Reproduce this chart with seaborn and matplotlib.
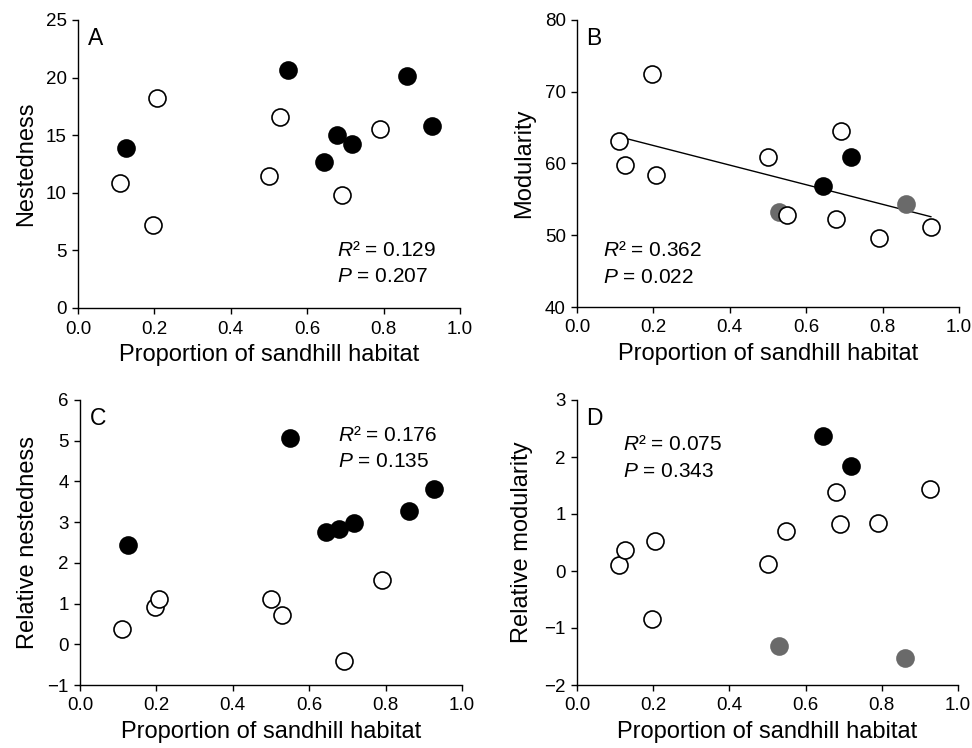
import numpy as np
import pandas as pd
import matplotlib
matplotlib.use("Agg")
import matplotlib.pyplot as plt
import seaborn as sns

# proportion of sandhill habitat per site (same sites in all panels)
sandhill = [0.109, 0.125, 0.197, 0.206, 0.500, 0.530, 0.549,
            0.645, 0.679, 0.690, 0.718, 0.791, 0.861, 0.927]

nestedness = [10.81, 13.93, 7.20, 18.21, 11.45, 16.59, 20.66,
              12.66, 15.06, 9.83, 14.22, 15.52, 20.17, 15.81]
modularity = [63.08, 59.81, 72.49, 58.41, 60.89, 53.29, 52.87,
              56.88, 52.26, 64.48, 60.93, 49.56, 54.41, 51.14]
rel_nestedness = [0.37, 2.44, 0.91, 1.12, 1.10, 0.73, 5.07,
                  2.77, 2.84, -0.40, 2.99, 1.58, 3.27, 3.81]
rel_modularity = [0.105, 0.37, -0.85, 0.53, 0.12, -1.32, 0.71,
                  2.37, 1.39, 0.82, 1.85, 0.85, -1.53, 1.44]

# point categories: open / filled (black) / gray
groups_nest = ["open", "filled", "open", "open", "open", "open", "filled",
               "filled", "filled", "open", "filled", "open", "filled", "filled"]
groups_mod = ["open", "open", "open", "open", "open", "gray", "open",
              "filled", "open", "open", "filled", "open", "gray", "open"]

stats_text = {
    "A": ("0.129", "0.207"),
    "B": ("0.362", "0.022"),
    "C": ("0.176", "0.135"),
    "D": ("0.075", "0.343"),
}

sns.set_style("ticks")
plt.rcParams["font.family"] = ["Liberation Sans", "DejaVu Sans"]
plt.rcParams["mathtext.fontset"] = "custom"
plt.rcParams["mathtext.rm"] = "Liberation Sans"
plt.rcParams["mathtext.it"] = "Liberation Sans:italic"
plt.rcParams["axes.linewidth"] = 1.0
plt.rcParams["axes.edgecolor"] = "black"
plt.rcParams["axes.labelcolor"] = "black"
plt.rcParams["text.color"] = "black"
plt.rcParams["xtick.color"] = "black"
plt.rcParams["ytick.color"] = "black"
plt.rcParams["xtick.major.width"] = 1.0
plt.rcParams["ytick.major.width"] = 1.0
plt.rcParams["xtick.major.size"] = 4.5
plt.rcParams["ytick.major.size"] = 4.5
plt.rcParams["xtick.major.pad"] = 4.5
plt.rcParams["xtick.labelsize"] = 13.5
plt.rcParams["ytick.labelsize"] = 13.5

fig = plt.figure(figsize=(9.72, 7.48), dpi=100)

W, H = 972, 748
def box(l, r, t, b):
    return [l / W, 1 - b / H, (r - l) / W, (b - t) / H]

panels = [
    # letter, y data, groups, ylabel, ylim, yticks, axes box, stats pos, ylabel x
    ("A", nestedness, groups_nest, "Nestedness", (0, 25), range(0, 26, 5),
     box(78, 460, 20, 308), (0.677, 0.18, 0.091), -0.107),
    ("B", modularity, groups_mod, "Modularity", (40, 80), range(40, 81, 10),
     box(577, 959, 20, 307), (0.069, 0.178, 0.085), -0.11),
    ("C", rel_nestedness, groups_nest, "Relative nestedness", (-1, 6), range(-1, 7),
     box(80, 462, 400, 685), (0.675, 0.856, 0.764), -0.107),
    ("D", rel_modularity, groups_mod, "Relative modularity", (-2, 3), range(-2, 4),
     box(577, 958, 400, 685), (0.121, 0.825, 0.729), -0.115),
]

styles = {
    "gray": dict(facecolor="#6a6a6a", edgecolor="#6a6a6a"),
    "filled": dict(facecolor="black", edgecolor="black"),
    "open": dict(facecolor="white", edgecolor="black"),
}

for letter, yvals, groups, ylabel, ylim, yticks, rect, spos, ylx in panels:
    ax = fig.add_axes(rect)
    df = pd.DataFrame({"x": sandhill, "y": yvals, "group": groups})

    if letter == "B":
        sns.regplot(data=df, x="x", y="y", scatter=False, ci=None, ax=ax,
                    line_kws=dict(color="black", linewidth=1.0, zorder=1))

    for g in ["gray", "filled", "open"]:
        sub = df[df["group"] == g]
        sns.scatterplot(data=sub, x="x", y="y", ax=ax, s=150, linewidth=1.2,
                        zorder=3, legend=False, **styles[g])

    ax.set_xlim(0, 1)
    ax.set_ylim(*ylim)
    ax.set_xticks(np.arange(0, 1.01, 0.2))
    ax.set_xticklabels([f"{t:.1f}" for t in np.arange(0, 1.01, 0.2)])
    ax.set_yticks(list(yticks))
    ax.set_xlabel("Proportion of sandhill habitat", fontsize=17, labelpad=5)
    ax.set_ylabel(ylabel, fontsize=17)
    ax.yaxis.set_label_coords(ylx, 0.5)
    sns.despine(ax=ax)

    ax.text(0.025, 0.975, letter, transform=ax.transAxes, fontsize=16.5,
            ha="left", va="top")
    r2, p = stats_text[letter]
    ax.text(spos[0], spos[1], r"$R$² = " + r2, transform=ax.transAxes,
            fontsize=15, ha="left", va="baseline")
    ax.text(spos[0], spos[2], r"$P$ = " + p, transform=ax.transAxes,
            fontsize=15, ha="left", va="baseline")

fig.savefig("out.png", dpi=100)
